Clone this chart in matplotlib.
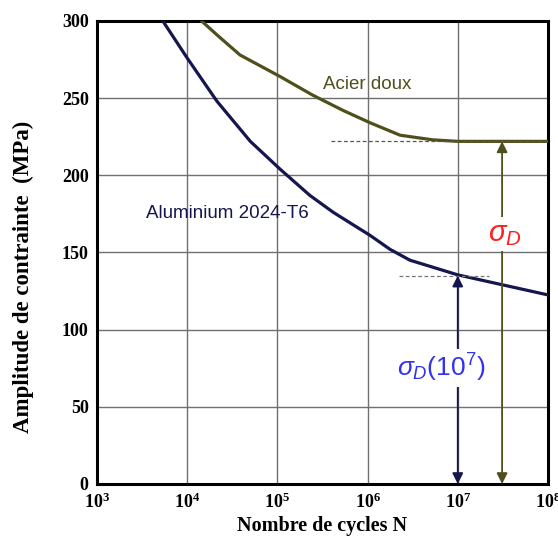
import matplotlib
matplotlib.use("Agg")
import matplotlib.pyplot as plt
import numpy as np

plt.rcParams['mathtext.fontset'] = 'custom'
plt.rcParams['mathtext.bf'] = 'Liberation Serif:bold'
plt.rcParams['mathtext.rm'] = 'Liberation Serif:bold'
plt.rcParams['mathtext.it'] = 'Liberation Sans:italic'
plt.rcParams['mathtext.sf'] = 'Liberation Sans'

# Data (log10 N, stress amplitude MPa)
alu_logN = [3.73, 4.0, 4.33, 4.70, 5.03, 5.36, 5.62, 6.03, 6.25, 6.47, 7.0, 7.5, 8.0]
alu_S = [300, 276, 248, 222, 204, 187, 176, 161, 152, 145, 135.5, 129, 122.5]
steel_logN = [4.16, 4.33, 4.585, 5.03, 5.39, 5.73, 6.03, 6.36, 6.72, 7.0, 8.0]
steel_S = [300, 291, 278, 264, 252, 242, 234, 226, 223, 222, 222]
alu_limit = 135
alu_limit_N = 1e7
steel_limit = 222
steel_arrow_N = 3.1e7
yticks = [0, 50, 100, 150, 200, 250, 300]
xticks = [1e3, 1e4, 1e5, 1e6, 1e7, 1e8]

navy = '#15154f'
olive = '#4f4f1c'

fig = plt.figure(figsize=(5.58, 5.38), dpi=100)
ax = fig.add_axes([0.1738, 0.1004, 0.8082, 0.8606])
ax.set_xscale('log')
ax.set_xlim(1e3, 1e8)
ax.set_ylim(0, 300)

ax.plot(10 ** np.array(alu_logN), alu_S, color=navy, lw=2.3, solid_capstyle='round',
        solid_joinstyle='round', zorder=4)
ax.plot(10 ** np.array(steel_logN), steel_S, color=olive, lw=2.3, solid_capstyle='round',
        solid_joinstyle='round', zorder=4)

# dashed reference lines
ax.plot([10 ** 5.6, 1e8], [steel_limit, steel_limit], ls=(0, (3, 2)), color='#555555', lw=0.9, zorder=5)
ax.plot([10 ** 6.35, 10 ** 7.35], [alu_limit, alu_limit], ls=(0, (3, 2)), color='#777777', lw=0.9, zorder=5)

# arrows
ax.annotate('', xy=(alu_limit_N, alu_limit), xytext=(alu_limit_N, 0),
            arrowprops=dict(arrowstyle='<|-|>', color=navy, lw=1.3, mutation_scale=16,
                            shrinkA=0, shrinkB=0), zorder=6)
ax.annotate('', xy=(steel_arrow_N, steel_limit), xytext=(steel_arrow_N, 0),
            arrowprops=dict(arrowstyle='<|-|>', color=olive, lw=1.3, mutation_scale=16,
                            shrinkA=0, shrinkB=0), zorder=6)

ax.text(10 ** 7.52, 162, r'$\sigma_D$', color='#ff2020', fontsize=21, ha='center', va='center',
        bbox=dict(facecolor='white', edgecolor='none', pad=2), zorder=7)
ax.text(10 ** 6.82, 75, r'$\sigma_D\mathsf{(10^7)}$', color='#3333ee', fontsize=19, ha='center', va='center',
        bbox=dict(facecolor='white', edgecolor='none', pad=2), zorder=7)

ax.text(10 ** 6.0, 259, 'Acier doux', color=olive, fontsize=13.5, family='Liberation Sans',
        ha='center', va='center', zorder=7)
ax.text(10 ** 4.45, 175, 'Aluminium 2024-T6', color=navy, fontsize=13.5, family='Liberation Sans',
        ha='center', va='center', zorder=7)

ax.set_xticks(xticks)
ax.set_xticklabels([r'$\mathbf{10^{%d}}$' % int(np.log10(v)) for v in xticks], fontsize=13)
ax.set_yticks(yticks)
ax.set_yticklabels([str(v) for v in yticks], fontsize=13, family='Liberation Serif', fontweight='bold')
ax.minorticks_off()
ax.tick_params(length=0, pad=6)
ax.grid(True, color='#707070', lw=1.0)
ax.set_axisbelow(True)
for s in ax.spines.values():
    s.set_linewidth(2.2)
    s.set_color('black')

ax.set_xlabel('Nombre de cycles N', fontsize=14.5, family='Liberation Serif', fontweight='bold', labelpad=3)
ax.set_ylabel('Amplitude de contrainte  (MPa)', fontsize=16.5, family='Liberation Serif', fontweight='bold')
ax.yaxis.set_label_coords(-0.14, 0.447)

fig.savefig('out.png', dpi=100)
